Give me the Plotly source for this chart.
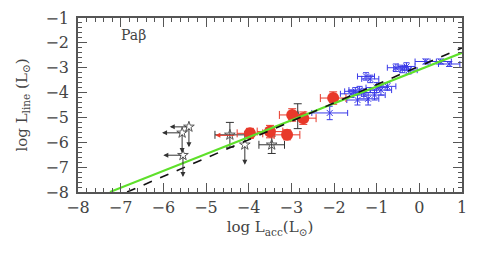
import plotly.graph_objects as go

# ---- data ----
blue_x = [-2.10, -1.60, -1.50, -1.40, -1.30, -1.25, -1.15, -1.00, -0.90, -0.75, -1.20, -1.05, -0.55, -0.40, -0.30, -0.25, 0.15, 0.50, 0.70, -1.45]
blue_y = [-4.82, -4.05, -3.95, -3.90, -4.00, -3.35, -3.45, -3.80, -3.90, -3.75, -4.25, -4.10, -3.00, -3.05, -2.95, -3.10, -2.75, -2.75, -2.85, -4.30]
blue_xerr = [0.42, 0.25, 0.25, 0.25, 0.25, 0.20, 0.20, 0.25, 0.25, 0.20, 0.25, 0.25, 0.20, 0.20, 0.20, 0.20, 0.25, 0.25, 0.25, 0.25]
blue_yerr = [0.27, 0.15, 0.15, 0.15, 0.15, 0.15, 0.15, 0.20, 0.20, 0.15, 0.25, 0.20, 0.15, 0.15, 0.15, 0.15, 0.10, 0.10, 0.10, 0.20]

red_x = [-3.97, -3.50, -2.98, -2.72, -3.10, -2.02]
red_y = [-5.64, -5.57, -4.90, -5.03, -5.70, -4.22]
red_xerr = [0.30, 0.30, 0.30, 0.30, 0.30, 0.30]
red_yerr = [0.20, 0.25, 0.25, 0.25, 0.20, 0.25]

star_x = [-4.44, -3.46, -2.85]
star_y = [-5.70, -6.10, -4.95]
star_xerr = [0.35, 0.30, 0.00]
star_yerr = [0.50, 0.35, 0.50]

lim_x = [-5.56, -5.40, -5.54, -4.09]
lim_y = [-5.62, -5.38, -6.52, -6.10]
lim_left_to = [-6.03, -5.85, -6.00, None]
lim_down_to = [-6.43, -6.20, -7.40, -6.90]

red_lim_x = [-4.30]
red_lim_y = [-5.72]
red_lim_left_to = [-4.78]

fit_names = ["green fit", "dashed fit"]
fit_slope = [0.679, 0.739]
fit_icpt = [-3.079, -2.939]
fit_xmin = [-7.25, -6.85]

x_ticks = [-8, -7, -6, -5, -4, -3, -2, -1, 0, 1]
y_ticks = [-8, -7, -6, -5, -4, -3, -2, -1]

GREEN = "#5ee02a"
BLUE = "#3a3ae8"
RED = "#e8392a"
BLACK = "#333333"
FONT = "DejaVu Serif"
TXT = "#444444"

fig = go.Figure()

# blue points
fig.add_trace(go.Scatter(
    x=blue_x, y=blue_y, mode="markers",
    marker=dict(symbol="x-thin-open", size=6, color=BLUE, line=dict(width=1, color=BLUE)),
    error_x=dict(type="data", array=blue_xerr, color=BLUE, thickness=1, width=3),
    error_y=dict(type="data", array=blue_yerr, color=BLUE, thickness=1, width=3),
    showlegend=False))

# black stars with error bars
fig.add_trace(go.Scatter(
    x=star_x, y=star_y, mode="markers",
    marker=dict(symbol="star-open", size=8, color="#555555", line=dict(width=1, color="#555555")),
    error_x=dict(type="data", array=star_xerr, color=BLACK, thickness=1, width=4),
    error_y=dict(type="data", array=star_yerr, color=BLACK, thickness=1, width=4),
    showlegend=False))

# upper limit stars
fig.add_trace(go.Scatter(
    x=lim_x, y=lim_y, mode="markers",
    marker=dict(symbol="star-open", size=8, color="#555555", line=dict(width=1, color="#555555")),
    showlegend=False))

annotations = []
for x0, y0, lt, dt in zip(lim_x, lim_y, lim_left_to, lim_down_to):
    if lt is not None:
        annotations.append(dict(x=lt, y=y0, ax=x0, ay=y0, xref="x", yref="y", axref="x", ayref="y",
                                showarrow=True, arrowhead=2, arrowsize=1.0, arrowwidth=1, arrowcolor=BLACK, text=""))
    if dt is not None:
        annotations.append(dict(x=x0, y=dt, ax=x0, ay=y0, xref="x", yref="y", axref="x", ayref="y",
                                showarrow=True, arrowhead=2, arrowsize=1.0, arrowwidth=1, arrowcolor=BLACK, text=""))
for x0, y0, lt in zip(red_lim_x, red_lim_y, red_lim_left_to):
    annotations.append(dict(x=lt, y=y0, ax=x0, ay=y0, xref="x", yref="y", axref="x", ayref="y",
                            showarrow=True, arrowhead=2, arrowsize=1.0, arrowwidth=1, arrowcolor=RED, text=""))

# red circles
fig.add_trace(go.Scatter(
    x=red_x, y=red_y, mode="markers",
    marker=dict(symbol="circle", size=12, color=RED),
    error_x=dict(type="data", array=red_xerr, color=RED, thickness=1, width=4),
    error_y=dict(type="data", array=red_yerr, color=RED, thickness=1, width=4),
    showlegend=False))

# fits
for name, b, a, xmin in zip(fit_names, fit_slope, fit_icpt, fit_xmin):
    xs = [xmin, 1.0]
    ys = [a + b * v for v in xs]
    if name == "green fit":
        line = dict(color=GREEN, width=2)
    else:
        line = dict(color="#111111", width=1.6, dash="dash")
    fig.add_trace(go.Scatter(x=xs, y=ys, mode="lines", line=line, name=name, showlegend=False))

annotations.append(dict(x=-6.7, y=-1.7, xref="x", yref="y", text="Paβ", showarrow=False,
                        font=dict(family=FONT, size=14, color=TXT)))

axis_common = dict(
    showgrid=False, zeroline=False, showline=True, linecolor="#555555", linewidth=1.5,
    mirror="ticks", ticks="inside", ticklen=9, tickwidth=1, tickcolor="#555555",
    minor=dict(ticks="inside", ticklen=4, tickwidth=1, tickcolor="#555555", dtick=0.2),
    tickfont=dict(family=FONT, size=16, color=TXT), automargin=False,
)

fig.update_xaxes(range=[-8, 1], tickvals=x_ticks, ticktext=["−%d" % -v if v < 0 else str(v) for v in x_ticks],
                 title=dict(text="log L<sub>acc</sub>(L<sub>⊙</sub>)", font=dict(family=FONT, size=15, color=TXT), standoff=6),
                 **axis_common)
fig.update_yaxes(range=[-8, -1], tickvals=y_ticks, ticktext=["−%d" % -v for v in y_ticks],
                 ticklabelstandoff=4,
                 title=dict(text="log L<sub>line</sub> (L<sub>⊙</sub>)", font=dict(family=FONT, size=15, color=TXT), standoff=14),
                 **axis_common)

# page body has an 8px margin; compensate so the plot lands where the reference has it
fig.update_layout(
    width=483, height=250,
    margin=dict(l=70, r=29, t=10, b=66),
    plot_bgcolor="white", paper_bgcolor="white",
    annotations=annotations,
)

fig.write_html("out.html")
